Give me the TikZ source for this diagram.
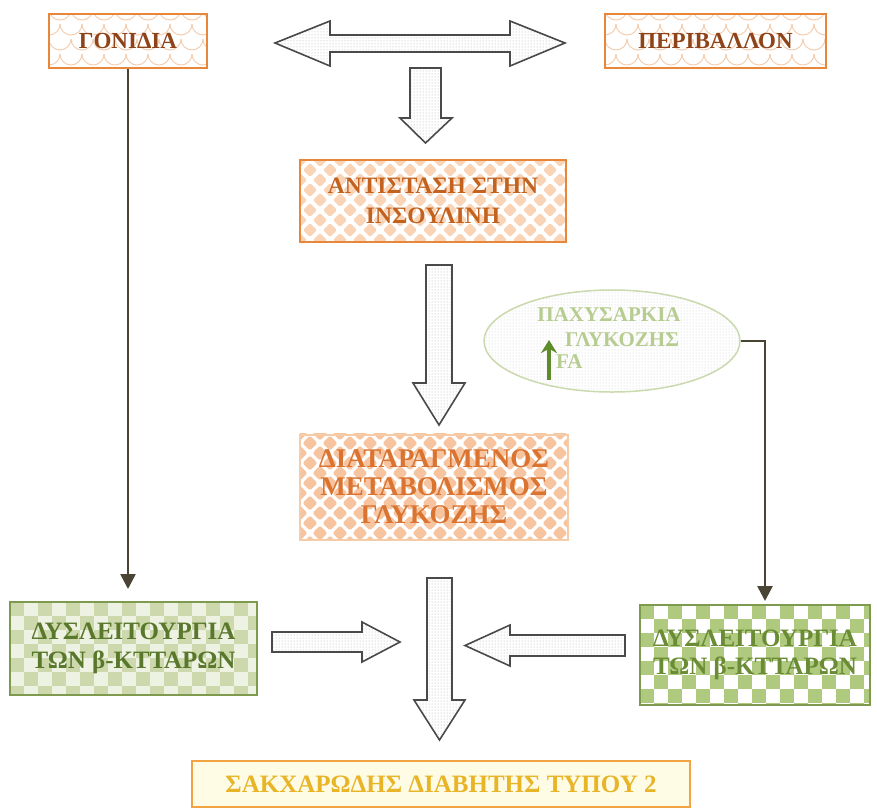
\documentclass[tikz,border=0pt]{standalone}
\usepackage{fontspec}
\setmainfont{Liberation Serif}
\usetikzlibrary{patterns,arrows.meta,shapes.geometric}
\definecolor{orB}{HTML}{E8873A}
\definecolor{orL}{HTML}{F4CFB2}
\definecolor{orT1}{HTML}{8E4418}
\definecolor{orT2}{HTML}{C2621E}
\definecolor{orT3}{HTML}{DA7430}
\definecolor{orA}{HTML}{F9D4B7}
\definecolor{orD}{HTML}{F7C4A0}
\definecolor{orDb}{HTML}{F6CBA8}
\definecolor{grB}{HTML}{7E9A4E}
\definecolor{grT}{HTML}{5A782C}
\definecolor{grT2}{HTML}{6A8C34}
\definecolor{grC1}{HTML}{CDD9AC}
\definecolor{grC0}{HTML}{EEF2E2}
\definecolor{grC2}{HTML}{AFC97E}
\definecolor{elB}{HTML}{CBD9AE}
\definecolor{elT}{HTML}{B7CC90}
\definecolor{upG}{HTML}{5E8C2A}
\definecolor{arrB}{HTML}{4A4A4A}
\definecolor{conC}{HTML}{4A4434}
\definecolor{ylB}{HTML}{F2A444}
\definecolor{ylF}{HTML}{FFFCE6}
\definecolor{ylT}{HTML}{E8B428}
\newcommand\scalefill[4]{%
  \begin{scope}
    \clip (#1,#2) rectangle (#3,#4);
    \foreach \j in {0,...,5}{\foreach \i in {-1,...,11}{%
      \pgfmathsetmacro\xx{#1+\i*22+mod(\j,2)*11}%
      \pgfmathsetmacro\yy{#2+\j*15-5}%
      \draw[orL, line width=1pt] (\xx,\yy) arc[start angle=180,end angle=0,radius=11];}}
  \end{scope}}
\newcommand\diamfill[6]{%
  \begin{scope}
    \clip (#1,#2) rectangle (#3,#4);
    \foreach \j in {0,...,12}{\foreach \i in {0,...,14}{%
      \pgfmathsetmacro\xx{#1+\i*20+mod(\j,2)*10}%
      \pgfmathsetmacro\yy{#2+\j*10}%
      \fill[#5, rounded corners=1.5pt] (\xx-#6,\yy) -- (\xx,\yy-#6) -- (\xx+#6,\yy) -- (\xx,\yy+#6) -- cycle;}}
  \end{scope}}
\newcommand\checkfill[6]{%
  \begin{scope}
    \clip (#1,#2) rectangle (#3,#4);
    \fill[#6] (#1,#2) rectangle (#3,#4);
    \foreach \j in {0,...,8}{\foreach \i in {0,...,18}{%
      \pgfmathtruncatemacro\pp{mod(\i+\j,2)}%
      \ifnum\pp=0
        \fill[#5] ({#1+\i*14},{#2+\j*14}) rectangle ++(14,14);
      \fi}}
  \end{scope}}
\tikzset{
  box/.style={draw, line width=2pt, inner sep=0pt, align=center, font=\bfseries\fontsize{23}{29}\selectfont},
  obox/.style={box, draw=orB},
  gbox/.style={box, draw=grB},
  blockarrow/.style={draw=arrB, line width=1.6pt, line join=miter, preaction={fill=white}, pattern=dots, pattern color=gray!65},
  conn/.style={draw=conC, line width=2.6pt, -{Triangle[length=15pt,width=15pt]}},
  eltext/.style={text=elT, font=\bfseries\fontsize{21}{24}\selectfont, inner sep=0pt},
}
\begin{document}
\begin{tikzpicture}[x=1pt,y=-1pt]
\useasboundingbox[fill=white] (0,0) rectangle (877,809);
% patterns
\scalefill{49}{14}{207}{68}
\scalefill{605}{14}{826}{68}
\diamfill{300}{160}{566}{242}{orA}{7}
\diamfill{300}{433}{568}{538}{orD}{7.5}
\checkfill{10}{602}{257}{695}{grC1}{grC0}
\checkfill{640}{605}{870}{705}{grC2}{white}
% boxes
\node[obox, text=orT1, minimum width=158, minimum height=54] (gon) at (128,41) {ΓΟΝΙΔΙΑ};
\node[obox, text=orT1, minimum width=221, minimum height=54] (per) at (715.5,41) {ΠΕΡΙΒΑΛΛΟΝ};
\node[obox, text=orT2, minimum width=266, minimum height=82, font=\bfseries\fontsize{23.5}{30}\selectfont] (ant) at (433,201) {ΑΝΤΙΣΤΑΣΗ ΣΤΗΝ\\ΙΝΣΟΥΛΙΝΗ};
\node[box, draw=orDb, text=orT3, minimum width=268, minimum height=105, font=\bfseries\fontsize{27}{28}\selectfont] (dia) at (434,487) {ΔΙΑΤΑΡΑΓΜΕΝΟΣ\\ΜΕΤΑΒΟΛΙΣΜΟΣ\\ΓΛΥΚΟΖΗΣ};
\node[gbox, text=grT, minimum width=247, minimum height=93, font=\bfseries\fontsize{25}{29}\selectfont] (lg) at (133.5,648.5) {ΔΥΣΛΕΙΤΟΥΡΓΙΑ\\ΤΩΝ β-ΚΤΤΑΡΩΝ};
\node[gbox, text=grT2, minimum width=230, minimum height=100, font=\bfseries\fontsize{25}{28}\selectfont] (rg) at (755,655) {ΔΥΣΛΕΙΤΟΥΡΓΙΑ\\ΤΩΝ β-ΚΤΤΑΡΩΝ};
\node[box, draw=ylB, fill=ylF, text=ylT, minimum width=498, minimum height=46, font=\bfseries\fontsize{25}{28}\selectfont] (dm) at (441,784) {ΣΑΚΧΑΡΩΔΗΣ ΔΙΑΒΗΤΗΣ ΤΥΠΟΥ 2};
% ellipse
\node[ellipse, draw=elB, line width=1.5pt, preaction={fill=white}, pattern=dots, pattern color=gray!40, minimum width=256, minimum height=102, inner sep=0pt] (ell) at (612,341) {};
\node[eltext] (t1) at (609,315) {ΠΑΧΥΣΑΡΚΙΑ};
\node[eltext] (t2) at (622,340) {ΓΛΥΚΟΖΗΣ};
\node[eltext, anchor=west] (t3) at (556,362) {FA};
\coordinate (ua1) at (549,380);
\coordinate (ua2) at (549,340);
\draw[upG, line width=3.2pt, -{Stealth[length=13pt,width=16pt]}] (ua1) -- (ua2);
% block arrows
\draw[blockarrow] (275,43) -- (330,21) -- (330,35) -- (510,35) -- (510,21) -- (565,43) -- (510,66) -- (510,52) -- (330,52) -- (330,66) -- cycle;
\draw[blockarrow] (410,68) -- (441,68) -- (441,118) -- (452,118) -- (425.5,143) -- (400,118) -- (410,118) -- cycle;
\draw[blockarrow] (426,265) -- (452,265) -- (452,383) -- (465,383) -- (439,425) -- (413,383) -- (426,383) -- cycle;
\draw[blockarrow] (427,578) -- (452,578) -- (452,700) -- (465,700) -- (439.5,740) -- (414,700) -- (427,700) -- cycle;
\draw[blockarrow] (272,632) -- (362,632) -- (362,622) -- (400,642) -- (362,662) -- (362,652) -- (272,652) -- cycle;
\draw[blockarrow] (625,635) -- (510,635) -- (510,625) -- (465,645.5) -- (510,666) -- (510,656) -- (625,656) -- cycle;
% connectors
\draw[conn, shorten >=12pt] (gon.south) -- (gon.south |- lg.north);
\draw[conn, shorten >=3pt] (ell.east) -| ([xshift=10pt]rg.north);
\end{tikzpicture}
\end{document}
